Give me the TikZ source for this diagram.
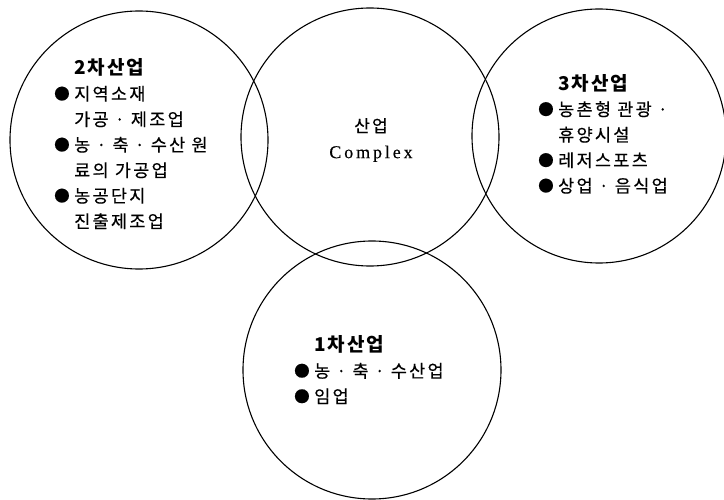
\documentclass[tikz,border=0pt]{standalone}
\usepackage{fontspec}
\setmainfont{Liberation Serif}
\newfontfamily\kr[LetterSpace=13, FakeBold=0.4]{Noto Sans CJK KR}
\newfontfamily\krhead[LetterSpace=10]{Noto Sans CJK KR}
\newfontfamily\latinsp[LetterSpace=16, FakeBold=0.3]{Liberation Serif}
\newcommand{\hd}[1]{{\krhead\bfseries\fontsize{19}{25}\selectfont #1}}
\newcommand{\ind}{\hspace*{20pt}}
\newcommand{\bul}{\makebox[20pt][l]{\raisebox{0.8pt}{\fontsize{15.5}{15}\selectfont ●}}}
\tikzset{
  ring/.style={draw, circle, line width=1.1pt, minimum size=#1, inner sep=0pt},
  ring/.default=258pt,
  sector/.style={anchor=west, align=left, inner sep=0pt, font=\kr\fontsize{17.5}{25.5}\selectfont},
  core/.style={align=center, inner sep=0pt, font=\fontsize{18}{26}\selectfont},
}
\begin{document}
\begin{tikzpicture}[x=1pt, y=-1pt]
  \useasboundingbox (0,0) rectangle (724,500);
  % circles
  \node[ring] (second) at (139,140) {};
  \node[ring] (complex) at (370,137) {};
  \node[ring=254pt] (third) at (599,136) {};
  \node[ring] (first) at (372,370) {};
  % texts
  \node[core] (complexlbl) at (371,140) {{\kr\fontsize{17}{26}\selectfont 산업}\\{\latinsp Complex}};
  \node[sector] (secondlbl) at (54,144) {\ind\hd{2차산업}\\\bul 지역소재\\\ind 가공 · 제조업\\\bul 농 · 축 · 수산 원\\\ind 료의 가공업\\\bul 농공단지\\\ind 진출제조업};
  \node[sector] (thirdlbl) at (538,134) {\ind\hd{3차산업}\\\bul 농촌형 관광 ·\\\ind 휴양시설\\\bul 레저스포츠\\\bul 상업 · 음식업};
  \node[sector] (firstlbl) at (294,370) {\ind\hd{1차산업}\\\bul 농 · 축 · 수산업\\\bul 임업};
\end{tikzpicture}
\end{document}
